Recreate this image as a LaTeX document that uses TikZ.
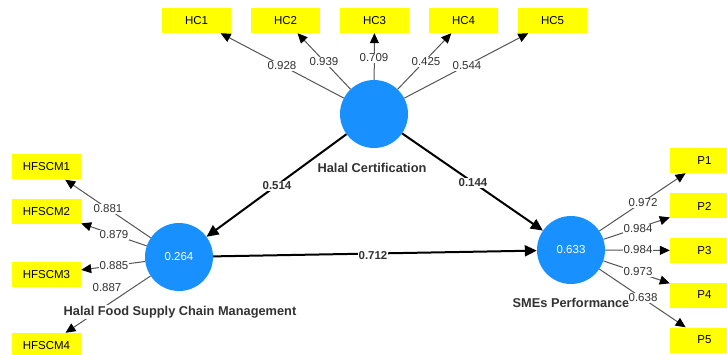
\documentclass[tikz,border=0pt]{standalone}
\usepackage{fontspec}
\setmainfont{Liberation Sans}
\usetikzlibrary{arrows.meta}
\definecolor{lvblue}{RGB}{24,145,255}
\definecolor{boxyellow}{RGB}{255,255,0}
\definecolor{loadgray}{RGB}{85,85,85}
\definecolor{numgray}{RGB}{50,50,50}
\begin{document}
\begin{tikzpicture}[x=1pt,y=-1pt,
  ind/.style={rectangle,fill=boxyellow,minimum width=69pt,minimum height=25pt,inner sep=0pt,
    font=\fontsize{11.5}{13}\selectfont,text=black},
  lv/.style={circle,fill=lvblue,minimum size=68pt,inner sep=0pt,
    font=\fontsize{11.5}{13}\selectfont,text=white},
  lvname/.style={fill=white,inner sep=1pt,font=\fontsize{12.8}{14}\selectfont\bfseries,text=numgray},
  loadlbl/.style={fill=white,inner sep=1pt,font=\fontsize{11.5}{13}\selectfont,text=numgray},
  pathlbl/.style={fill=white,inner sep=1pt,font=\fontsize{11.5}{13}\selectfont\bfseries,text=numgray},
  loading/.style={draw=loadgray,line width=1pt,-{Triangle[length=10pt,width=9pt,color=black]}},
  structural/.style={draw=black,line width=2pt,-{Triangle[length=12pt,width=11pt]}}
]
\fill[white] (0,0) rectangle (727,355);
\useasboundingbox (0,0) rectangle (727,355);

% latent variables
\node[lv] (hc) at (374,114) {};
\node[lv] (hf) at (179,257) {0.264};
\node[lv] (sme) at (571,250) {0.633};

% indicators
\node[ind] (hc1) at (196.5,20.5) {HC1};
\node[ind] (hc2) at (285.5,20.5) {HC2};
\node[ind] (hc3) at (374.5,20.5) {HC3};
\node[ind] (hc4) at (463.5,20.5) {HC4};
\node[ind] (hc5) at (552.5,20.5) {HC5};

\node[ind] (hf1) at (46.5,167) {HFSCM1};
\node[ind] (hf2) at (46.5,211.5) {HFSCM2};
\node[ind] (hf3) at (46.5,274.5) {HFSCM3};
\node[ind] (hf4) at (46.5,345.5) {HFSCM4};

\node[ind] (p1) at (704.5,160.5) {P1};
\node[ind] (p2) at (704.5,206) {P2};
\node[ind] (p3) at (704.5,250.5) {P3};
\node[ind] (p4) at (704.5,295) {P4};
\node[ind] (p5) at (704.5,340) {P5};

% loadings
\foreach \t in {hc1,hc2,hc3,hc4,hc5} \draw[loading] (hc) -- (\t);
\foreach \t in {hf1,hf2,hf3,hf4} \draw[loading] (hf) -- (\t);
\foreach \t in {p1,p2,p3,p4,p5} \draw[loading] (sme) -- (\t);

% structural paths
\draw[structural] (hc) -- (hf);
\draw[structural] (hc) -- (sme);
\draw[structural] (hf) -- (sme);

% construct names
\node[lvname] (hcname) at (372,168) {Halal Certification};
\node[lvname] (hfname) at (180,312) {Halal Food Supply Chain Management};
\node[lvname] (smename) at (571,303) {SMEs Performance};

% path coefficients
\node[pathlbl] (c1) at (277,186) {0.514};
\node[pathlbl] (c2) at (473,183) {0.144};
\node[pathlbl] (c3) at (373,256) {0.712};

% loading values
\node[loadlbl] (l1) at (282,66) {0.928};
\node[loadlbl] (l2) at (324,62) {0.939};
\node[loadlbl] (l3) at (374,58) {0.709};
\node[loadlbl] (l4) at (426,62) {0.425};
\node[loadlbl] (l5) at (467,66) {0.544};

\node[loadlbl] (m1) at (108,209) {0.881};
\node[loadlbl] (m2) at (114,235) {0.879};
\node[loadlbl] (m3) at (114,266) {0.885};
\node[loadlbl] (m4) at (107,288) {0.887};

\node[loadlbl] (q1) at (643,203) {0.972};
\node[loadlbl] (q2) at (638,229) {0.984};
\node[loadlbl] (q3) at (638,250) {0.984};
\node[loadlbl] (q4) at (638,272) {0.973};
\node[loadlbl] (q5) at (643,298) {0.638};
\end{tikzpicture}
\end{document}
